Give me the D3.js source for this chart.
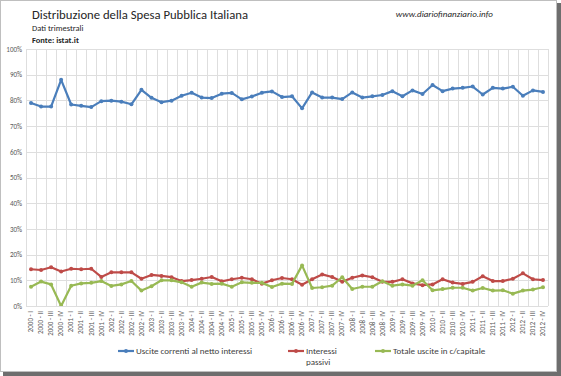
<!DOCTYPE html>
<html>
<head>
<meta charset="utf-8">
<script src="https://cdn.jsdelivr.net/npm/d3@7"></script>
<style>
  body { margin: 0; background: #fff; }
  svg { display: block; font-family: Carlito, Lato, "Liberation Sans", sans-serif; }
</style>
</head>
<body>
<div id="chart"></div>
<script>
// Data
const years = ["2000", "2001", "2002", "2003", "2004", "2005", "2006", "2007", "2008", "2009", "2010", "2011", "2012"];
const quarters = ["I", "II", "III", "IV"];
const categories = years.flatMap(y => quarters.map(q => `${y} - ${q}`));

const usciteCorrenti = [
    79.0, 77.6, 77.6, 88.0, 78.4, 77.9, 77.4, 79.7, 79.9, 79.5, 78.5, 84.1, 81.0,
    79.3, 79.9, 81.8, 83.0, 81.1, 80.9, 82.6, 82.9, 80.4, 81.5, 83.0, 83.5, 81.3,
    81.6, 76.9, 83.1, 81.1, 81.1, 80.5, 83.1, 81.1, 81.6, 82.1, 83.6, 81.6, 83.9,
    82.5, 86.0, 83.6, 84.6, 84.9, 85.4, 82.3, 84.9, 84.6, 85.3, 81.8, 83.9, 83.3
];
const interessiPassivi = [
    14.3, 14.0, 15.1, 13.4, 14.5, 14.3, 14.5, 11.3, 13.1, 13.1, 13.1, 10.6, 12.1,
    11.7, 11.2, 9.7, 10.1, 10.6, 11.3, 9.6, 10.4, 11.0, 10.4, 8.7, 10.0, 10.9,
    10.4, 8.3, 10.4, 12.3, 11.3, 9.4, 11.0, 11.9, 11.2, 9.4, 9.4, 10.4, 8.8,
    8.1, 8.4, 10.4, 9.1, 8.6, 9.4, 11.6, 9.7, 9.7, 10.6, 12.7, 10.4, 10.1
];
const usciteCapitale = [
    7.5, 9.5, 8.4, 0.0, 7.9, 8.8, 9.0, 9.7, 7.8, 8.4, 9.7, 6.0, 7.7,
    10.0, 10.0, 9.2, 7.5, 9.1, 8.6, 8.7, 7.5, 9.2, 9.0, 9.0, 7.4, 8.7,
    8.6, 15.8, 7.0, 7.3, 7.9, 11.2, 6.6, 7.5, 7.5, 9.6, 7.9, 8.4, 7.9,
    10.0, 6.1, 6.6, 7.1, 7.1, 6.0, 7.0, 6.0, 6.1, 4.8, 6.0, 6.4, 7.3
];
const yTicks = [0, 10, 20, 30, 40, 50, 60, 70, 80, 90, 100];

const series = [
    { name: ["Uscite correnti al netto interessi"], values: usciteCorrenti, color: "#4a7ebb", lx: 118 },
    { name: ["Interessi", "passivi"], values: interessiPassivi, color: "#be4b48", lx: 288 },
    { name: ["Totale uscite in c/capitale"], values: usciteCapitale, color: "#98b954", lx: 375 }
];

// Sizes
const W = 561, H = 376;
const plot = { left: 26, right: 548, top: 49, bottom: 306 };

const svg = d3.select("#chart")
    .append("svg")
    .attr("width", W)
    .attr("height", H);

// Frame with shadow
svg.append("rect").attr("x", 4).attr("y", 4).attr("width", 556).attr("height", 371).attr("fill", "#8a8a8a");
svg.append("rect").attr("x", 557).attr("y", 3).attr("width", 4).attr("height", 373).attr("fill", "#6e6e6e");
svg.append("rect").attr("x", 3).attr("y", 372).attr("width", 558).attr("height", 4).attr("fill", "#6e6e6e");
svg.append("rect")
    .attr("x", 0.5).attr("y", 0.5)
    .attr("width", 556).attr("height", 371)
    .attr("fill", "#fff")
    .attr("stroke", "#bfbfbf");

// Scales
const x = d3.scaleBand().domain(categories).range([plot.left, plot.right]);
const y = d3.scaleLinear().domain([0, 100]).range([plot.bottom, plot.top]);
const cx = d => x(d) + x.bandwidth() / 2;

// Grid
const grid = svg.append("g").attr("stroke", "#dedede").attr("stroke-width", 1);
grid.selectAll("line.h")
    .data(yTicks)
    .join("line")
    .attr("class", "h")
    .attr("x1", plot.left).attr("x2", plot.right)
    .attr("y1", d => Math.round(y(d)) + 0.5).attr("y2", d => Math.round(y(d)) + 0.5);
grid.selectAll("line.v")
    .data(categories.concat([null]))
    .join("line")
    .attr("class", "v")
    .attr("x1", (d, i) => Math.round(plot.left + i * x.bandwidth()) + 0.5)
    .attr("x2", (d, i) => Math.round(plot.left + i * x.bandwidth()) + 0.5)
    .attr("y1", plot.top).attr("y2", plot.bottom);

// Y axis labels
const yAxis = d3.axisLeft(y).tickValues(yTicks).tickSize(0).tickPadding(4).tickFormat(d => d + "%");
svg.append("g")
    .attr("transform", `translate(${plot.left},0)`)
    .call(yAxis)
    .call(g => g.select(".domain").remove())
    .selectAll("text")
    .attr("font-size", 7)
    .attr("fill", "#595959")
    .attr("font-family", "Carlito, Lato, sans-serif");

// X axis labels (rotated)
const xAxis = d3.axisBottom(x).tickSize(0).tickPadding(0);
svg.append("g")
    .attr("transform", `translate(0,${plot.bottom})`)
    .call(xAxis)
    .call(g => g.select(".domain").remove())
    .selectAll("text")
    .attr("transform", "rotate(-90)")
    .attr("x", -5)
    .attr("y", 0)
    .attr("dy", "0.32em")
    .attr("text-anchor", "end")
    .attr("font-size", 7)
    .attr("fill", "#595959")
    .attr("font-family", "Carlito, Lato, sans-serif");

// Lines
const line = d3.line()
    .x((d, i) => cx(categories[i]))
    .y(d => y(d));

svg.append("clipPath").attr("id", "plotclip")
    .append("rect")
    .attr("x", plot.left).attr("y", plot.top - 5)
    .attr("width", plot.right - plot.left).attr("height", plot.bottom - plot.top + 5);

series.forEach(s => {
    const g = svg.append("g").attr("clip-path", "url(#plotclip)");
    g.append("path")
        .datum(s.values)
        .attr("d", line)
        .attr("fill", "none")
        .attr("stroke", s.color)
        .attr("stroke-width", 2.2)
        .attr("stroke-linejoin", "round");
    g.selectAll("circle")
        .data(s.values)
        .join("circle")
        .attr("cx", (d, i) => cx(categories[i]))
        .attr("cy", d => y(d))
        .attr("r", 2)
        .attr("fill", s.color);
});

// Legend
const legend = svg.append("g");
series.forEach(s => {
    const g = legend.append("g").attr("transform", `translate(${s.lx},351)`);
    g.append("line").attr("x1", 0).attr("x2", 16).attr("y1", 0).attr("y2", 0)
        .attr("stroke", s.color).attr("stroke-width", 2.2);
    g.append("circle").attr("cx", 8).attr("cy", 0).attr("r", 2).attr("fill", s.color);
    g.append("text")
        .attr("x", 18)
        .attr("y", 0)
        .attr("font-size", 9)
        .attr("fill", "#404040")
        .selectAll("tspan")
        .data(s.name)
        .join("tspan")
        .attr("x", 18)
        .attr("dy", (d, i) => i === 0 ? "0.35em" : "1.2em")
        .text(d => d);
});

// Titles
svg.append("text")
    .attr("x", 32).attr("y", 19)
    .attr("font-size", 12.7)
    .attr("fill", "#262626")
    .text("Distribuzione della Spesa Pubblica Italiana");
svg.append("text")
    .attr("x", 32).attr("y", 31)
    .attr("font-size", 8.5)
    .attr("fill", "#262626")
    .text("Dati trimestrali");
svg.append("text")
    .attr("x", 32).attr("y", 43)
    .attr("font-size", 8.5)
    .attr("font-weight", "bold")
    .attr("fill", "#262626")
    .text("Fonte: istat.it");
svg.append("text")
    .attr("x", 493).attr("y", 17)
    .attr("text-anchor", "end")
    .attr("font-size", 9)
    .attr("font-style", "italic")
    .attr("fill", "#262626")
    .text("www.diariofinanziario.info");
</script>
</body>
</html>
